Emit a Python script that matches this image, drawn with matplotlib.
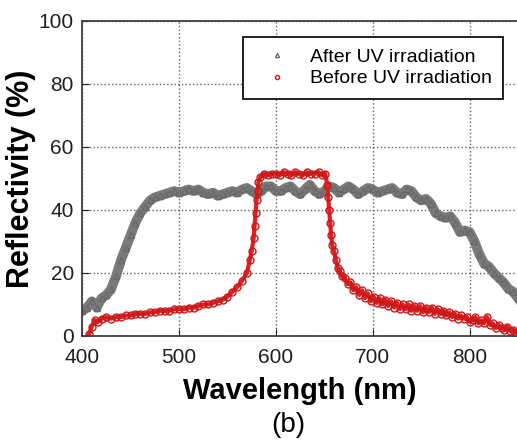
import numpy as np
import matplotlib.pyplot as plt

plt.rcParams['font.family'] = ['Liberation Sans', 'DejaVu Sans']

# After UV irradiation (gray triangles)
after_wl = np.arange(400, 851, 5)
after_val = [8, 9, 11, 9, 12, 13, 15, 19, 24, 28,
             32, 36, 39, 41, 43, 44, 44.5, 45, 45.5, 46,
             45.5, 46, 46.5, 46, 46.5, 45.5, 45, 45.5, 44.5, 45,
             45.5, 46, 45.5, 46.5, 47, 46, 45, 46, 47.5, 47.5,
             46, 46, 47, 47.5, 46, 45, 46.5, 48, 46, 45,
             46, 47.5, 47, 45.5, 46.5, 47.5, 46.5, 45, 46, 47,
             46.5, 45.5, 46, 46.5, 47, 45.5, 45, 46.5, 46, 44,
             43, 43.5, 42, 39, 38, 37.5, 38, 36, 33, 33.5,
             33, 30, 26, 23, 22, 20, 18.5, 17, 15, 14,
             12]

# Before UV irradiation (red circles)
before_wl = [407, 410, 413, 416, 420, 425, 430, 435, 440, 445,
             450, 455, 460, 465, 470, 475, 480, 485, 490, 495,
             500, 505, 510, 515, 520, 525, 530, 535, 540, 545,
             550, 555, 560, 565, 570, 573, 575, 577, 578, 579,
             580, 581, 582, 584, 588, 592, 596, 600, 604, 608,
             612, 616, 620, 624, 628, 632, 636, 640, 644, 648,
             651, 653, 654, 655, 656, 657, 658, 660, 662, 664,
             666, 668, 671, 674, 677, 680, 683, 686, 689, 692,
             695, 698, 701, 704, 707, 710, 713, 716, 719, 722,
             725, 728, 731, 734, 737, 740, 743, 746, 749, 752,
             755, 758, 761, 764, 767, 770, 773, 776, 779, 782,
             785, 788, 791, 794, 797, 800, 803, 806, 809, 812,
             815, 818, 821, 824, 827, 830, 833, 836, 839, 842,
             845, 848, 850]
before_val = [0.5, 3, 5, 4.5, 5.5, 6, 5.5, 6, 6, 6.5,
              6.5, 7, 7, 7, 7.5, 7.5, 8, 8, 8, 8.5,
              8.5, 8.5, 9, 9, 9.5, 10, 10, 10.5, 11, 11.5,
              12.5, 14, 15.5, 17.5, 20, 24, 27, 31, 35, 39,
              43, 46, 49, 50.5, 51.5, 51, 51.5, 51.5, 51, 52,
              51.5, 51, 52, 51.5, 51, 52, 51.5, 51.5, 52, 51,
              51.5, 48, 44, 40, 36, 32, 29, 27, 24, 21.5,
              20.5, 19, 18.5, 16.5, 17, 14.5, 15.5, 13, 14.5, 12,
              13.5, 11, 12.5, 10.5, 12, 10, 11.5, 9.5, 11, 9,
              10.5, 8.5, 10, 8.5, 10, 8, 9.5, 8, 9.5, 7.5,
              9, 7.5, 9, 7, 8.5, 7, 8, 6.5, 7.5, 6,
              7, 5.5, 6.5, 5.5, 6, 4.5, 5, 6, 4, 5,
              4, 6, 3.5, 4, 2.5, 3.5, 2.5, 2, 3, 1.5,
              2, 1, 1.5]

fig = plt.figure(figsize=(5.17, 4.45), dpi=100)
ax = fig.add_axes([0.159, 0.245, 0.843, 0.708])

ax.plot(after_wl, after_val, linestyle='-', color='#7a7a7a', lw=7,
        marker='^', markersize=5, markerfacecolor='none',
        markeredgecolor='#6a6a6a', label='After UV irradiation')
ax.plot(before_wl, before_val, linestyle='-', color='#e02020', lw=3,
        marker='o', markersize=5, markerfacecolor='none',
        markeredgecolor='#c81818', label='Before UV irradiation')

ax.set_xlim(400, 850)
ax.set_ylim(0, 100)
ax.set_xticks([400, 500, 600, 700, 800])
ax.set_yticks([0, 20, 40, 60, 80, 100])
ax.tick_params(direction='in', length=5, labelsize=15, colors='#202020')
ax.tick_params(axis='x', pad=9)
ax.tick_params(axis='y', pad=6)
ax.grid(True, linestyle=':', color='#606060', lw=1)
for s in ax.spines.values():
    s.set_color('#404040')
    s.set_linewidth(1.3)

ax.set_xlabel('Wavelength (nm)', fontsize=21, fontweight='bold', labelpad=7)
ax.set_ylabel('Reflectivity (%)', fontsize=22, fontweight='bold', labelpad=2)

leg = ax.legend(loc='upper right', bbox_to_anchor=(0.966, 0.95), fontsize=14,
                markerscale=0.6, handlelength=2.3, handletextpad=0.55,
                fancybox=False, framealpha=1, borderpad=0.6, labelspacing=0.2,
                borderaxespad=0, handleheight=0.7)
leg.get_frame().set_edgecolor('#202020')
leg.get_frame().set_linewidth(1.4)
for h in leg.legend_handles:
    h.set_linestyle('none')

fig.text(0.558, 0.03, '(b)', fontsize=20, ha='center')

fig.savefig('out.png', dpi=100)
